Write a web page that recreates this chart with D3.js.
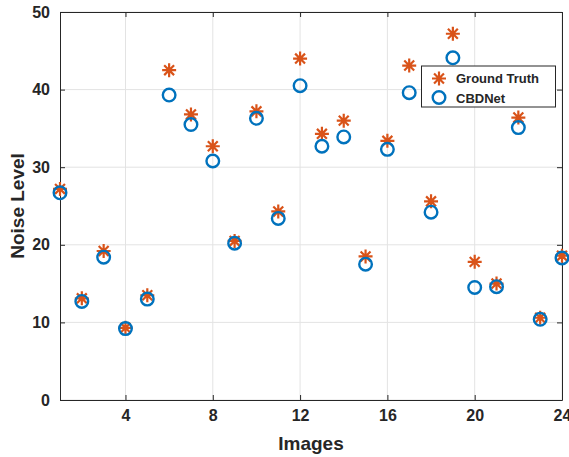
<!DOCTYPE html>
<html lang="en">
<head>
  <meta charset="UTF-8">
  <title>Noise Level</title>
  <script src="https://cdn.jsdelivr.net/npm/d3@7"></script>
  <style>
    body { margin: 0; background: #fff; }
    text { font-family: "Liberation Sans", Arial, sans-serif; font-weight: bold; fill: #262626; }
  </style>
</head>
<body>
  <div id="chart"></div>
  <script>
    // data
    const images = d3.range(1, 25);
    const groundTruth = [27.2, 13.1, 19.2, 9.3, 13.5, 42.5, 36.8, 32.7, 20.5, 37.2, 24.3, 44.0,
                         34.3, 36.0, 18.5, 33.4, 43.1, 25.6, 47.2, 17.8, 15.0, 36.4, 10.6, 18.6];
    const cbdnet = [26.7, 12.7, 18.4, 9.2, 13.0, 39.3, 35.5, 30.8, 20.2, 36.3, 23.4, 40.5,
                    32.7, 33.9, 17.5, 32.3, 39.6, 24.2, 44.1, 14.5, 14.6, 35.1, 10.4, 18.3];
    const xTicks = [4, 8, 12, 16, 20, 24];
    const yTicks = [0, 10, 20, 30, 40, 50];

    const width = 569, height = 457;
    const plotL = 60, plotR = 562, plotT = 12, plotB = 400;
    const orange = "#D95319", blue = "#0072BD";

    const svg = d3.select("#chart").append("svg")
      .attr("width", width).attr("height", height);

    const x = d3.scaleLinear().domain([1, 24]).range([plotL, plotR]);
    const y = d3.scaleLinear().domain([0, 50]).range([plotB, plotT]);

    // grid
    svg.append("g").selectAll("line").data(xTicks).enter().append("line")
      .attr("x1", d => x(d)).attr("x2", d => x(d)).attr("y1", plotT).attr("y2", plotB)
      .attr("stroke", "#e3e3e3").attr("stroke-width", 1);
    svg.append("g").selectAll("line").data(yTicks).enter().append("line")
      .attr("y1", d => y(d)).attr("y2", d => y(d)).attr("x1", plotL).attr("x2", plotR)
      .attr("stroke", "#e3e3e3").attr("stroke-width", 1);

    // axes (inward ticks, box on)
    const ax = svg.append("g").attr("class", "axes");
    ax.append("g").attr("transform", "translate(0," + plotB + ")")
      .call(d3.axisBottom(x).tickValues(xTicks).tickSizeInner(-5).tickSizeOuter(0).tickPadding(10));
    ax.append("g").attr("transform", "translate(0," + plotT + ")")
      .call(d3.axisTop(x).tickValues(xTicks).tickSizeInner(-5).tickSizeOuter(0).tickFormat(""));
    ax.append("g").attr("transform", "translate(" + plotL + ",0)")
      .call(d3.axisLeft(y).tickValues(yTicks).tickSizeInner(-5).tickSizeOuter(0).tickPadding(10));
    ax.append("g").attr("transform", "translate(" + plotR + ",0)")
      .call(d3.axisRight(y).tickValues(yTicks).tickSizeInner(-5).tickSizeOuter(0).tickFormat(""));
    ax.selectAll(".domain").attr("stroke", "#262626").attr("stroke-width", 1);
    ax.selectAll(".tick line").attr("stroke", "#262626");
    ax.selectAll(".tick text").style("font-size", "16px").attr("fill", "#262626");

    // markers
    function star(g, cx, cy, r) {
      const s = r * 0.707;
      g.append("path")
        .attr("d", `M${cx - r},${cy}H${cx + r}M${cx},${cy - r}V${cy + r}` +
                   `M${cx - s},${cy - s}L${cx + s},${cy + s}M${cx - s},${cy + s}L${cx + s},${cy - s}`)
        .attr("stroke", orange).attr("stroke-width", 2.2).attr("fill", "none");
    }

    const gt = svg.append("g");
    groundTruth.forEach((v, i) => star(gt, x(images[i]), y(v), 7));

    svg.append("g").selectAll("circle").data(cbdnet).enter().append("circle")
      .attr("cx", (d, i) => x(images[i])).attr("cy", d => y(d)).attr("r", 6.3)
      .attr("fill", "none").attr("stroke", blue).attr("stroke-width", 2.4);

    // axis labels
    svg.append("text").attr("x", (plotL + plotR) / 2).attr("y", 450)
      .attr("text-anchor", "middle").style("font-size", "19px").text("Images");
    svg.append("text").attr("transform", "translate(24," + (plotT + plotB) / 2 + ") rotate(-90)")
      .attr("text-anchor", "middle").style("font-size", "19px").text("Noise Level");

    // legend
    const lg = svg.append("g");
    lg.append("rect").attr("x", 421.5).attr("y", 66).attr("width", 134).attr("height", 41)
      .attr("fill", "#fff").attr("stroke", "#262626").attr("stroke-width", 1);
    star(lg, 439, 78.5, 7);
    lg.append("circle").attr("cx", 439).attr("cy", 97.5).attr("r", 6.3)
      .attr("fill", "none").attr("stroke", blue).attr("stroke-width", 2.4);
    lg.append("text").attr("x", 456).attr("y", 83).style("font-size", "13px").attr("fill", "#000").text("Ground Truth");
    lg.append("text").attr("x", 456).attr("y", 102.5).style("font-size", "13px").attr("fill", "#000").text("CBDNet");
  </script>
</body>
</html>
